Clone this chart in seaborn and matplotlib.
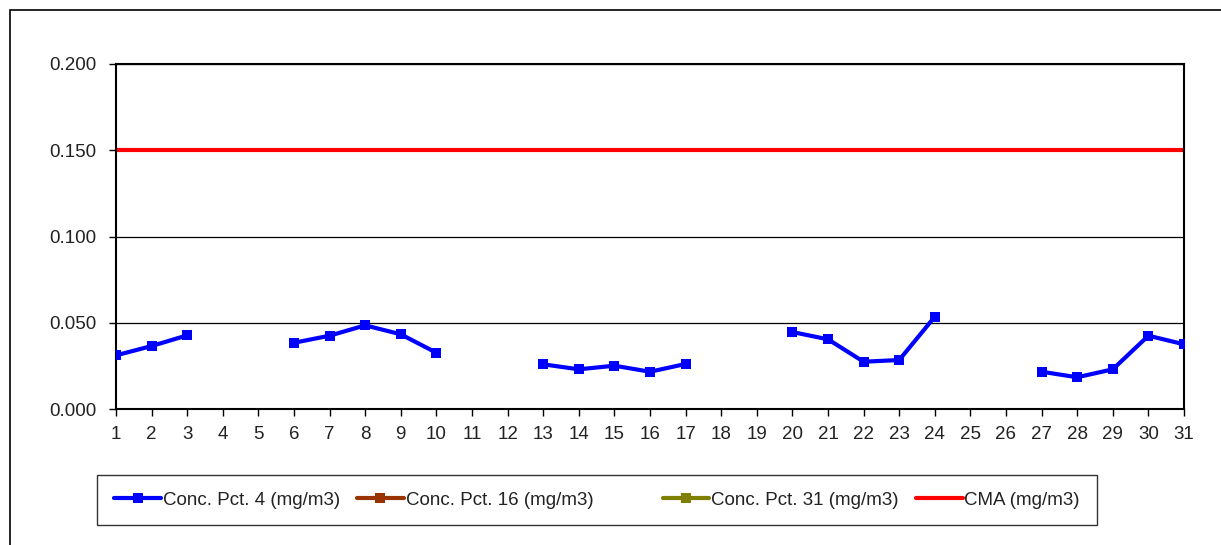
import matplotlib
matplotlib.use('Agg')
import matplotlib.pyplot as plt
from matplotlib.lines import Line2D
from matplotlib.patches import Rectangle
import seaborn as sns
import pandas as pd
import numpy as np

# days of the month and the readings (NaN = no measurement)
days = list(range(1, 32))
pct4 = [0.0311, 0.0365, 0.0427, np.nan, np.nan, 0.0384, 0.0425, 0.0485, 0.0433, 0.0326,
        np.nan, np.nan, 0.0259, 0.0230, 0.0251, 0.0216, 0.0261, np.nan, np.nan, 0.0446,
        0.0404, 0.0274, 0.0284, 0.0535, np.nan, np.nan, 0.0216, 0.0184, 0.0230, 0.0425,
        0.0375]
pct16 = [np.nan] * 31
pct31 = [np.nan] * 31
cma = [0.150] * 31

series_labels = ['Conc. Pct. 4 (mg/m3)', 'Conc. Pct. 16 (mg/m3)',
                 'Conc. Pct. 31 (mg/m3)', 'CMA (mg/m3)']
series_colors = ['#0000FF', '#993300', '#808000', '#FF0000']

sns.set_theme(style='white')
plt.rcParams['font.family'] = ['Liberation Sans', 'DejaVu Sans']

fig = plt.figure(figsize=(12.21, 5.45), dpi=100)
ax = fig.add_axes([116 / 1221, 1 - 409 / 545, (1184 - 116) / 1221, (409 - 64) / 545])

# outer chart frame
fig.patches.append(Rectangle((10 / 1221, -0.1), 1.2, 1 - 10 / 545 + 0.1,
                             transform=fig.transFigure, fill=False,
                             edgecolor='black', linewidth=1.2, zorder=0))

# split each series into runs between missing days so gaps stay open
def segments(values):
    seg, out, prev_nan = 0, [], True
    for v in values:
        if np.isnan(v):
            prev_nan = True
            out.append(np.nan)
        else:
            if prev_nan:
                seg += 1
            prev_nan = False
            out.append(seg)
    return out

for vals, color in zip([pct4, pct16, pct31], series_colors[:3]):
    df = pd.DataFrame({'day': days, 'value': vals, 'seg': segments(vals)}).dropna()
    if len(df) == 0:
        continue
    sns.lineplot(data=df, x='day', y='value', units='seg', estimator=None,
                 color=color, linewidth=3, marker='s', markersize=7.5,
                 markeredgewidth=0, ax=ax, legend=False, zorder=3)

sns.lineplot(x=days, y=cma, color=series_colors[3], linewidth=3, ax=ax,
             legend=False, zorder=2)

ax.set_xlim(1, 31)
ax.set_ylim(0, 0.2)
ax.set_xticks(days)
ax.set_yticks([0, 0.05, 0.1, 0.15, 0.2])
ax.set_yticklabels(['%.3f' % t for t in [0, 0.05, 0.1, 0.15, 0.2]])
ax.set_xlabel('')
ax.set_ylabel('')
ax.grid(axis='y', color='black', linewidth=0.9)
ax.grid(axis='x', visible=False)
for sp in ax.spines.values():
    sp.set_color('black')
    sp.set_linewidth(1.5)
ax.tick_params(axis='both', direction='out', length=5, width=1, color='black',
               labelsize=13.5, labelcolor='#222222', left=True, bottom=True)
ax.tick_params(axis='x', pad=7)
ax.tick_params(axis='y', pad=9)

handles = []
for i, (lab, col) in enumerate(zip(series_labels, series_colors)):
    if i == 1:
        lab = lab + ' ' * 10  # the original legend leaves a wide gap after this entry
    if i < 3:
        handles.append(Line2D([], [], color=col, linewidth=3, marker='s',
                              markersize=7, markeredgewidth=0, label=lab))
    else:
        handles.append(Line2D([], [], color=col, linewidth=3, label=lab))

leg = fig.legend(handles=handles, loc='center', ncol=4,
                 bbox_to_anchor=(597 / 1221, 1 - 500 / 545),
                 fontsize=13.5, frameon=True, fancybox=False, edgecolor='black',
                 handlelength=2.5, handletextpad=0.1, borderaxespad=0,
                 columnspacing=0.9, borderpad=0.9)
leg.get_frame().set_linewidth(1.0)
for t in leg.get_texts():
    t.set_color('#222222')

fig.savefig('out.png', dpi=100)
